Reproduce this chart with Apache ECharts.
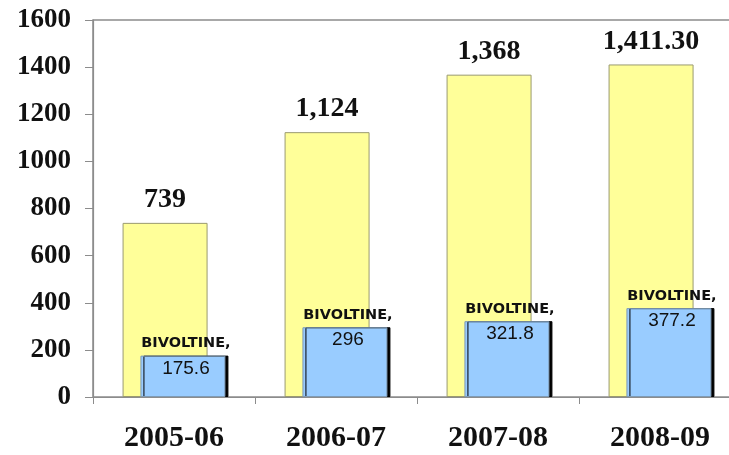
<!DOCTYPE html>
<html>
<head>
<meta charset="utf-8">
<script src="https://cdn.jsdelivr.net/npm/echarts@6/dist/echarts.min.js"></script>
<style>
  html, body { margin: 0; padding: 0; background: #ffffff; }
  #chart { width: 729px; height: 455px; }
</style>
</head>
<body>
<div id="chart"></div>
<script>
// Raw silk production by year (metric tonnes): total and bivoltine share
const years = ['2005-06', '2006-07', '2007-08', '2008-09'];
const totalSilk = [739, 1124, 1368, 1411.3];
const bivoltineSilk = [175.6, 296, 321.8, 377.2];
const bivoltineTag = 'BIVOLTINE,';
const yTicks = { min: 0, max: 1600, interval: 200 };

function formatTotal(v) {
  return Number.isInteger(v)
    ? v.toLocaleString('en-US')
    : v.toLocaleString('en-US', { minimumFractionDigits: 2, maximumFractionDigits: 2 });
}

const serif = '"Liberation Serif", "Times New Roman", serif';
const chart = echarts.init(document.getElementById('chart'));

chart.setOption({
  animation: false,
  backgroundColor: '#ffffff',
  grid: {
    left: 93, top: 20, width: 648, height: 377,
    outerBoundsMode: 'none',
    containLabel: false,
    show: true, borderColor: '#8c8c8c', borderWidth: 1.5, backgroundColor: 'transparent'
  },
  xAxis: {
    type: 'category',
    data: years,
    axisLine: { lineStyle: { color: '#8c8c8c', width: 1.2 } },
    axisTick: { show: true, length: 7, lineStyle: { color: '#8c8c8c' } },
    axisLabel: {
      margin: 26,
      fontFamily: serif, fontWeight: 'bold', fontSize: 30, color: '#111'
    }
  },
  yAxis: {
    type: 'value',
    min: yTicks.min, max: yTicks.max, interval: yTicks.interval,
    axisLine: { show: true, lineStyle: { color: '#8c8c8c', width: 1.2 } },
    axisTick: { show: true, length: 8, lineStyle: { color: '#8c8c8c' } },
    splitLine: { show: false },
    axisLabel: {
      margin: 22,
      formatter: v => String(v),
      fontFamily: serif, fontWeight: 'bold', fontSize: 27, color: '#111'
    }
  },
  series: [
    {
      name: 'Total',
      type: 'bar',
      data: totalSilk,
      barWidth: 85,
      barGap: '-79%',
      itemStyle: { color: '#FFFF99', borderColor: '#9a9a70', borderWidth: 1 },
      label: {
        show: true,
        position: 'top',
        distance: 9,
        formatter: p => formatTotal(p.value),
        fontFamily: serif, fontWeight: 'bold', fontSize: 28, color: '#111'
      }
    },
    {
      name: 'Bivoltine',
      type: 'bar',
      data: bivoltineSilk,
      barWidth: 85,
      itemStyle: {
        color: '#99CCFF', borderColor: '#7f9bb5', borderWidth: 1,
        shadowColor: '#000000', shadowBlur: 0, shadowOffsetX: 3, shadowOffsetY: 0
      },
      label: {
        show: true,
        position: 'insideTop',
        distance: 0,
        offset: [3, -22],
        formatter: p => '{t|' + bivoltineTag + '}\n{v|' + p.value + '}',
        rich: {
          t: {
            fontFamily: '"DejaVu Sans", Verdana, sans-serif', fontWeight: 'bold',
            fontSize: 14.5, color: '#111', lineHeight: 20, align: 'center'
          },
          v: {
            fontFamily: '"Liberation Sans", Arial, sans-serif',
            fontSize: 19, color: '#111', lineHeight: 30, align: 'center'
          }
        }
      }
    }
  ]
});
</script>
</body>
</html>
